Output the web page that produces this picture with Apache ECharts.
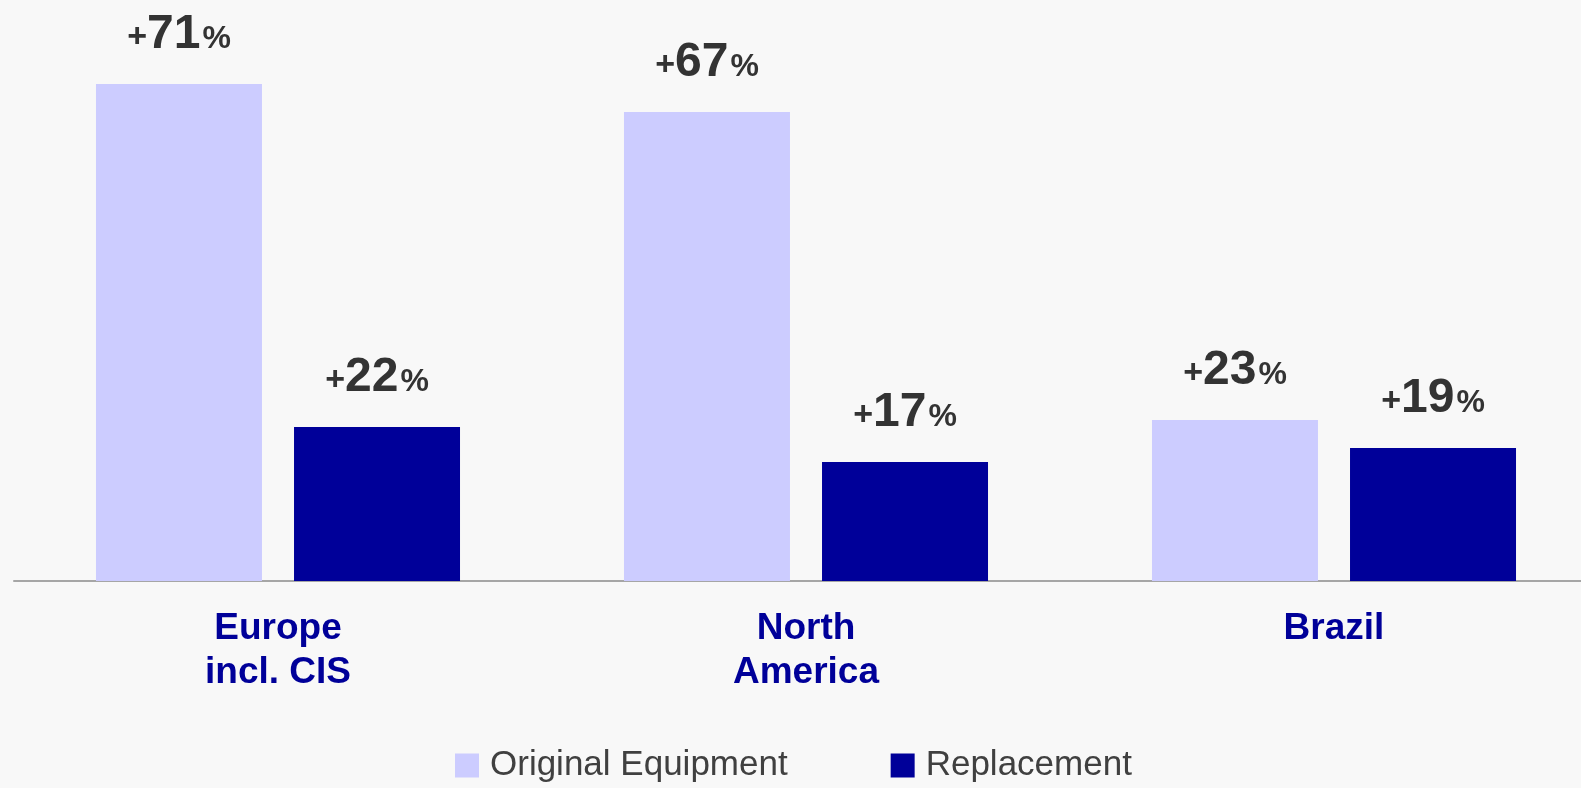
<!DOCTYPE html>
<html>
<head>
<meta charset="utf-8">
<script src="https://cdn.jsdelivr.net/npm/echarts@6/dist/echarts.min.js"></script>
<style>
  html, body { margin: 0; padding: 0; background: #f8f8f8; overflow: hidden; }
  #main { width: 1600px; height: 788px; }
</style>
</head>
<body>
<div id="main"></div>
<script>
const categories = ['Europe\nincl. CIS', 'North\nAmerica', 'Brazil'];
const seriesNames = ['Original Equipment', 'Replacement'];
const originalEquipment = [71, 67, 23];
const replacement = [22, 17, 19];

const FONT = '"Liberation Sans", Arial, Helvetica, sans-serif';

function valueLabel() {
  return {
    show: true,
    position: 'top',
    distance: 25,
    formatter: function (p) { return '{s|+}{b|' + p.value + '}{p|%}'; },
    rich: {
      s: { fontSize: 34, fontWeight: 'bold', color: '#333333', fontFamily: FONT, verticalAlign: 'bottom', padding: [0, 0, 4, 0] },
      b: { fontSize: 48, fontWeight: 'bold', color: '#333333', fontFamily: FONT, verticalAlign: 'bottom' },
      p: { fontSize: 32, fontWeight: 'bold', color: '#333333', fontFamily: FONT, verticalAlign: 'bottom', padding: [0, 0, 4, 2] }
    }
  };
}

const chart = echarts.init(document.getElementById('main'), null, { renderer: 'canvas' });
chart.setOption({
  backgroundColor: '#f8f8f8',
  animation: false,
  grid: { left: 14, width: 1584, top: 21, height: 560, containLabel: false },
  legend: {
    data: seriesNames,
    left: 450,
    top: 743,
    icon: 'rect',
    itemWidth: 24,
    itemHeight: 24,
    itemGap: 103,
    textStyle: { fontSize: 35, color: '#404040', fontFamily: FONT, padding: [0, 0, 0, 6] }
  },
  xAxis: {
    type: 'category',
    data: categories,
    axisLine: { show: true, lineStyle: { color: '#a6a6a6', width: 2 } },
    axisTick: { show: false },
    axisLabel: {
      margin: 26,
      fontSize: 37,
      fontWeight: 'bold',
      color: '#000099',
      fontFamily: FONT,
      lineHeight: 44
    }
  },
  yAxis: {
    type: 'value',
    min: 0,
    max: 80,
    show: false,
    splitLine: { show: false }
  },
  series: [
    {
      name: seriesNames[0],
      type: 'bar',
      data: originalEquipment,
      barWidth: 166,
      barGap: '19.3%',
      itemStyle: { color: '#ccccff' },
      label: valueLabel()
    },
    {
      name: seriesNames[1],
      type: 'bar',
      data: replacement,
      barWidth: 166,
      barGap: '19.3%',
      itemStyle: { color: '#000099' },
      label: valueLabel()
    }
  ]
});
</script>
</body>
</html>
